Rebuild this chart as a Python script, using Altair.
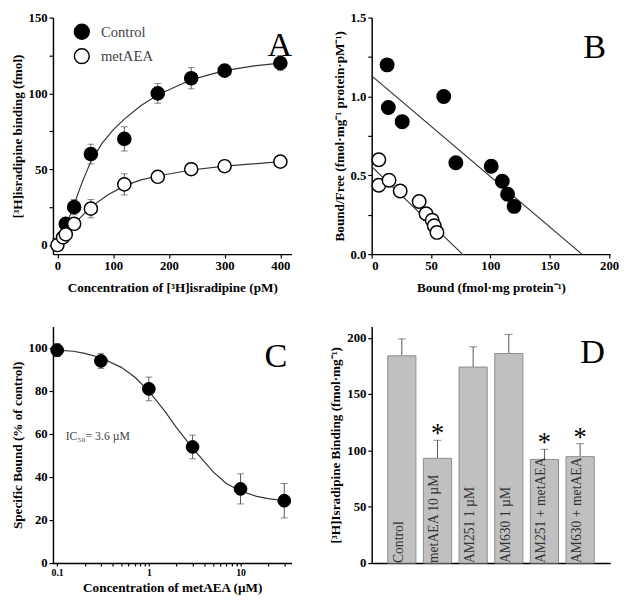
import altair as alt
import pandas as pd

FONT = "Liberation Serif"

# ---------------- Panel A : saturation binding ----------------
a_ctrl_x = [15, 30, 60, 120, 180, 240, 300, 400]
a_ctrl_y = [14, 25, 60, 70, 100, 110, 115, 120]
a_ctrl_err = [3, 5, 6.5, 8, 6.5, 7, 4, 5]
a_met_x = [0, 10, 15, 30, 60, 120, 180, 240, 300, 400]
a_met_y = [0, 5, 7, 14, 24, 40, 45, 50, 52, 55]
a_met_err = [1, 2, 2, 4, 6, 7, 3, 4, 2, 2]
a_ctrl_fit_x = [0, 15, 30, 45, 60, 80, 100, 120, 150, 180, 210, 240, 270, 300, 350, 400]
a_ctrl_fit_y = [0, 12, 27, 42, 55, 67, 76, 83, 92, 99, 104, 109, 112, 115, 118, 120]
a_met_fit_x = [0, 15, 30, 60, 90, 120, 150, 180, 240, 300, 400]
a_met_fit_y = [0, 7.5, 14, 25, 33, 39, 43, 45.5, 49.5, 52, 55]

# ---------------- Panel B : Scatchard ----------------
b_ctrl_x = [13, 14, 25.7, 60.7, 70.9, 100.7, 110, 114.5, 120]
b_ctrl_y = [1.20, 0.93, 0.84, 1.00, 0.58, 0.557, 0.462, 0.38, 0.303]
b_met_x = [6, 6, 14.6, 24, 40, 45.8, 51, 52.7, 55]
b_met_y = [0.598, 0.437, 0.468, 0.40, 0.334, 0.256, 0.215, 0.18, 0.138]
b_ctrl_fit_x = [0, 177]
b_ctrl_fit_y = [1.13, 0]
b_met_fit_x = [0, 76.4]
b_met_fit_y = [0.555, 0]

# ---------------- Panel C : displacement ----------------
c_x = [0.1, 0.3, 1, 3, 10, 30]
c_y = [99, 94, 81, 54, 34.5, 29]
c_err = [3, 3.5, 5.5, 5.5, 7, 8]
c_fit_x = [0.1, 0.15, 0.2, 0.3, 0.5, 0.7, 1, 1.5, 2, 3, 5, 7, 10, 15, 20, 30]
c_fit_y = [99, 98.5, 97.5, 95.5, 91, 86.5, 80, 70.5, 63, 53.5, 42.5, 37, 33.5, 31, 30, 29]

# ---------------- Panel D : bars ----------------
d_labels = ["Control", "metAEA 10 µM", "AM251 1 µM", "AM630 1 µM",
            "AM251 + metAEA", "AM630 + metAEA"]
d_values = [184, 93, 174, 186, 92, 94.5]
d_err = [15, 16, 18, 17, 9, 11.5]
d_star = [False, True, False, False, True, True]

W = 244
H = 242
series_scale = alt.Scale(domain=["Control", "metAEA"], range=["black", "white"])


def legend(x, y):
    return alt.Legend(orient="none", legendX=x, legendY=y, title=None,
                      labelFont=FONT, labelFontSize=15, labelColor="#444",
                      symbolSize=230, symbolType="circle", symbolStrokeColor="black",
                      symbolStrokeWidth=1.5, rowPadding=2, labelOffset=11, padding=0)


def letter(t, x, y):
    return alt.Chart(pd.DataFrame({"t": [t]})).mark_text(
        font=FONT, fontSize=35, color="black", align="center", baseline="middle"
    ).encode(text="t:N", x=alt.value(x), y=alt.value(y))


def minor_expr(step):
    return f"abs(datum.value / {step} - round(datum.value / {step})) < 1e-6 ? datum.label : ''"


# ---- A ----
a_pts = pd.DataFrame({
    "x": a_ctrl_x + a_met_x,
    "y": a_ctrl_y + a_met_y,
    "err": a_ctrl_err + a_met_err,
    "series": ["Control"] * len(a_ctrl_x) + ["metAEA"] * len(a_met_x),
})
a_pts["lo"] = a_pts["y"] - a_pts["err"]
a_pts["hi"] = a_pts["y"] + a_pts["err"]
a_fit = pd.DataFrame({
    "x": a_ctrl_fit_x + a_met_fit_x,
    "y": a_ctrl_fit_y + a_met_fit_y,
    "series": ["Control"] * len(a_ctrl_fit_x) + ["metAEA"] * len(a_met_fit_x),
})
ax_A = alt.X("x:Q", scale=alt.Scale(domain=[-8, 420], nice=False, zero=False),
             axis=alt.Axis(values=list(range(0, 401, 50)), labelExpr=minor_expr(100),
                           title="Concentration of [³H]isradipine (pM)", titlePadding=8))
ay_A = alt.Y("y:Q", scale=alt.Scale(domain=[-6, 150], nice=False, zero=False),
             axis=alt.Axis(values=list(range(0, 151, 25)), labelExpr=minor_expr(50),
                           title="[³H]isradipine binding (fmol)"))
A_line = alt.Chart(a_fit).mark_line(color="#333", strokeWidth=1.2).encode(
    x=ax_A, y=ay_A, detail="series:N")
A_rule = alt.Chart(a_pts).mark_rule(color="#555", strokeWidth=1).encode(
    x="x:Q", y="lo:Q", y2="hi:Q")
A_cap1 = alt.Chart(a_pts).mark_tick(orient="horizontal", size=7, thickness=1, color="#555").encode(x="x:Q", y="hi:Q")
A_cap2 = alt.Chart(a_pts).mark_tick(orient="horizontal", size=7, thickness=1, color="#555").encode(x="x:Q", y="lo:Q")
A_pt = alt.Chart(a_pts).mark_point(shape="circle", filled=True, size=180, stroke="black",
                                   strokeWidth=1.5, opacity=1).encode(
    x="x:Q", y="y:Q", fill=alt.Fill("series:N", scale=series_scale, legend=legend(21, 6)))
A = alt.layer(A_line, A_rule, A_cap1, A_cap2, A_pt, letter("A", 232, 28)).properties(width=W, height=H)

# ---- B ----
b_pts = pd.DataFrame({
    "x": b_ctrl_x + b_met_x,
    "y": b_ctrl_y + b_met_y,
    "series": ["Control"] * len(b_ctrl_x) + ["metAEA"] * len(b_met_x),
})
b_fit = pd.DataFrame({
    "x": b_ctrl_fit_x + b_met_fit_x,
    "y": b_ctrl_fit_y + b_met_fit_y,
    "series": ["Control"] * 2 + ["metAEA"] * 2,
})
ax_B = alt.X("x:Q", scale=alt.Scale(domain=[0, 201], nice=False),
             axis=alt.Axis(values=list(range(0, 201, 25)), labelExpr=minor_expr(50),
                           title="Bound (fmol·mg protein⁻¹)", titlePadding=8))
ay_B = alt.Y("y:Q", scale=alt.Scale(domain=[0, 1.5], nice=False),
             axis=alt.Axis(values=[0, 0.25, 0.5, 0.75, 1.0, 1.25, 1.5], format=".1f",
                           labelExpr=minor_expr(0.5),
                           title="Bound/Free (fmol·mg⁻¹ protein·pM⁻¹)"))
B_line = alt.Chart(b_fit).mark_line(color="#333", strokeWidth=1.2).encode(
    x=ax_B, y=ay_B, detail="series:N")
B_pt = alt.Chart(b_pts).mark_point(shape="circle", filled=True, size=190, stroke="black",
                                   strokeWidth=1.5, opacity=1).encode(
    x="x:Q", y="y:Q", fill=alt.Fill("series:N", scale=series_scale, legend=legend(44, 6)))
B = alt.layer(B_line, B_pt, letter("B", 228, 30)).properties(width=W, height=H)

# ---- C ----
c_pts = pd.DataFrame({"x": c_x, "y": c_y, "err": c_err})
c_pts["lo"] = c_pts["y"] - c_pts["err"]
c_pts["hi"] = c_pts["y"] + c_pts["err"]
c_fit = pd.DataFrame({"x": c_fit_x, "y": c_fit_y})
c_ticks = [0.1, 0.2, 0.3, 0.4, 0.5, 0.6, 0.7, 0.8, 0.9, 1, 2, 3, 4, 5, 6, 7, 8, 9, 10, 20, 30]
ax_C = alt.X("x:Q", scale=alt.Scale(type="log", domain=[0.09, 36], nice=False),
             axis=alt.Axis(values=c_ticks, labelFontSize=10, tickSize=3,
                           labelExpr="datum.value == 0.1 ? '0.1' : datum.value == 1 ? '1' : datum.value == 10 ? '10' : ''",
                           title="Concentration of metAEA (µM)", titlePadding=3))
ay_C = alt.Y("y:Q", scale=alt.Scale(domain=[0, 110], nice=False),
             axis=alt.Axis(values=list(range(0, 101, 10)), labelExpr=minor_expr(20),
                           title="Specific Bound (% of control)"))
C_line = alt.Chart(c_fit).mark_line(color="#333", strokeWidth=1.2).encode(x=ax_C, y=ay_C)
C_rule = alt.Chart(c_pts).mark_rule(color="#555", strokeWidth=1).encode(x="x:Q", y="lo:Q", y2="hi:Q")
C_cap1 = alt.Chart(c_pts).mark_tick(orient="horizontal", size=7, thickness=1, color="#555").encode(x="x:Q", y="hi:Q")
C_cap2 = alt.Chart(c_pts).mark_tick(orient="horizontal", size=7, thickness=1, color="#555").encode(x="x:Q", y="lo:Q")
C_pt = alt.Chart(c_pts).mark_point(shape="circle", filled=True, size=170, stroke="black",
                                   fill="black", strokeWidth=1, opacity=1).encode(x="x:Q", y="y:Q")
C_ic = alt.Chart(pd.DataFrame({"t": ["IC₅₀= 3.6 µM"]})).mark_text(
    font=FONT, fontSize=12, color="#444", align="left", baseline="middle"
).encode(text="t:N", x=alt.value(13), y=alt.value(112))
C = alt.layer(C_line, C_rule, C_cap1, C_cap2, C_pt, C_ic, letter("C", 228, 30)).properties(width=W, height=H)

# ---- D ----
d_df = pd.DataFrame({"label": d_labels, "value": d_values, "err": d_err, "star": d_star})
d_df["hi"] = d_df["value"] + d_df["err"]
d_df["s"] = ["*" if s else "" for s in d_star]
ax_D = alt.X("label:N", sort=d_labels,
             scale=alt.Scale(paddingInner=0.21, paddingOuter=0.45),
             axis=alt.Axis(labels=False, ticks=False, title=None))
ay_D = alt.Y("value:Q", scale=alt.Scale(domain=[0, 210], nice=False),
             axis=alt.Axis(values=list(range(0, 201, 25)), labelExpr=minor_expr(50),
                           title="[³H]Isradipine Binding (fmol·mg⁻¹)"))
D_rule = alt.Chart(d_df).mark_rule(color="#555", strokeWidth=1).encode(
    x=alt.X("label:N", sort=d_labels), y="value:Q", y2="hi:Q")
D_cap = alt.Chart(d_df).mark_tick(orient="horizontal", size=8, thickness=1, color="#555").encode(
    x=alt.X("label:N", sort=d_labels), y="hi:Q")
D_bar = alt.Chart(d_df).mark_bar(color="#c0c0c0", stroke="#8c8c8c", strokeWidth=1).encode(x=ax_D, y=ay_D)
D_txt = alt.Chart(d_df).mark_text(font=FONT, fontSize=14, color="#333", angle=270,
                                  align="left", baseline="middle", dy=-3).encode(
    x=alt.X("label:N", sort=d_labels), y=alt.datum(0), text="label:N")
D_star = alt.Chart(d_df).mark_text(font=FONT, fontSize=27, color="black", align="center",
                                   baseline="alphabetic", dy=2).encode(
    x=alt.X("label:N", sort=d_labels), y="hi:Q", text="s:N")
D = alt.layer(D_rule, D_cap, D_bar, D_txt, D_star, letter("D", 226, 26)).properties(width=W, height=H)

chart = alt.concat(A, B, C, D, columns=2, spacing={"row": 21, "column": 36}).configure_view(
    stroke=None
).configure_axis(
    labelFont=FONT, labelFontSize=13, labelFontWeight="bold", labelColor="black",
    titleFont=FONT, titleFontSize=13.5, titleFontWeight="bold", titleColor="black",
    domainColor="black", domainWidth=1.5, tickColor="black", tickSize=4, tickWidth=1.2,
    grid=False, labelPadding=2, titlePadding=4
).properties(padding={"left": 2, "top": -3, "right": 2, "bottom": 0})

chart.save("out.html", embed_options={"renderer": "svg", "actions": False})
